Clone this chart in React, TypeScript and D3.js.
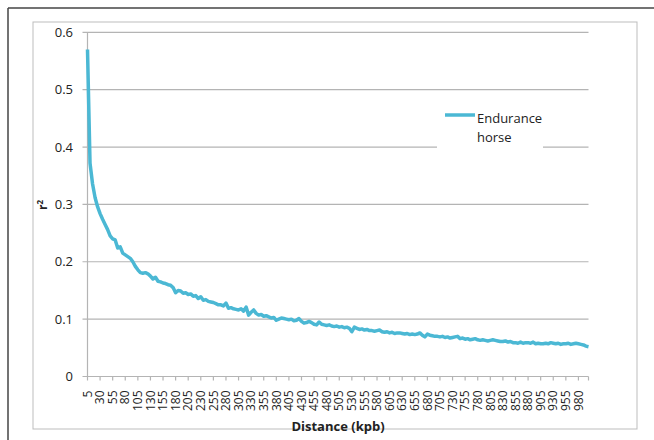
import * as d3 from "d3"

// r2 values, one per 5 kb step from 5 to 1000 kb
const r2Values = [
  0.570, 0.372, 0.336, 0.312, 0.296, 0.284, 0.274, 0.265, 0.256, 0.245,
  0.240, 0.238, 0.224, 0.226, 0.215, 0.212, 0.209, 0.206, 0.200, 0.192,
  0.186, 0.181, 0.180, 0.181, 0.179, 0.175, 0.170, 0.173, 0.166, 0.165,
  0.163, 0.162, 0.160, 0.159, 0.155, 0.146, 0.150, 0.149, 0.145, 0.146,
  0.143, 0.144, 0.140, 0.141, 0.136, 0.139, 0.133, 0.134, 0.131, 0.130,
  0.129, 0.127, 0.125, 0.125, 0.123, 0.128, 0.119, 0.120, 0.118, 0.117,
  0.116, 0.118, 0.114, 0.121, 0.107, 0.112, 0.116, 0.110, 0.107, 0.108,
  0.105, 0.106, 0.104, 0.102, 0.103, 0.098, 0.100, 0.102, 0.101, 0.100,
  0.099, 0.100, 0.097, 0.098, 0.101, 0.096, 0.093, 0.094, 0.096, 0.094,
  0.091, 0.090, 0.095, 0.091, 0.090, 0.089, 0.090, 0.088, 0.087, 0.088,
  0.086, 0.087, 0.085, 0.086, 0.084, 0.078, 0.086, 0.084, 0.082, 0.083,
  0.081, 0.082, 0.080, 0.080, 0.079, 0.080, 0.081, 0.078, 0.077, 0.078,
  0.076, 0.077, 0.075, 0.076, 0.076, 0.075, 0.074, 0.075, 0.073, 0.074,
  0.073, 0.074, 0.076, 0.072, 0.069, 0.074, 0.072, 0.071, 0.070, 0.070,
  0.069, 0.070, 0.068, 0.069, 0.067, 0.068, 0.069, 0.070, 0.066, 0.067,
  0.065, 0.066, 0.064, 0.065, 0.066, 0.064, 0.063, 0.064, 0.063, 0.062,
  0.063, 0.064, 0.063, 0.062, 0.061, 0.061, 0.062, 0.060, 0.061, 0.059,
  0.059, 0.058, 0.060, 0.058, 0.059, 0.059, 0.058, 0.060, 0.057, 0.058,
  0.057, 0.057, 0.058, 0.057, 0.059, 0.058, 0.057, 0.058, 0.056, 0.057,
  0.057, 0.058, 0.056, 0.057, 0.058, 0.057, 0.056, 0.055, 0.053, 0.052,
]

const distances = d3.range(5, 1001, 5)

const xTickLabels = [
  5, 30, 55, 80, 105, 130, 155, 180, 205, 230, 255, 280, 305, 330, 355, 380, 405, 430, 455, 480,
  505, 530, 555, 580, 605, 630, 655, 680, 705, 730, 755, 780, 805, 830, 855, 880, 905, 930, 955, 980,
]

const yTicks = [0, 0.1, 0.2, 0.3, 0.4, 0.5, 0.6]

const seriesName = ["Endurance", "horse"]

const font = "'Open Sans', sans-serif"
const lineColor = "#4bb8d4"
const gridColor = "#b4b4b4"

export default function App() {
  const left = 87.5
  const right = 588.5
  const top = 32.3
  const bottom = 376.5

  const x = d3.scalePoint<number>().domain(distances).range([left, right])
  const y = d3.scaleLinear().domain([0, 0.6]).range([bottom, top])

  const line = d3
    .line<number>()
    .x((_, i) => x(distances[i]) as number)
    .y((d) => y(d))

  return (
    <svg
      width={654}
      height={440}
      style={{ position: "absolute", left: 0, top: 0, background: "#fff" }}
    >
      {/* outer frame */}
      <line x1={8} y1={8} x2={654} y2={8} stroke="#444" strokeWidth={1.5} />
      <line x1={8} y1={8} x2={8} y2={440} stroke="#444" strokeWidth={1.5} />
      {/* chart area border */}
      <rect x={33} y={22} width={604} height={407} fill="#fff" stroke="#bdbdbd" strokeWidth={1} />

      {/* gridlines + y ticks */}
      {yTicks.map((t) => (
        <g key={t}>
          <line x1={left - 5} x2={right} y1={y(t)} y2={y(t)} stroke={gridColor} strokeWidth={1.2} />
          <text
            x={73}
            y={y(t)}
            dy="0.35em"
            textAnchor="end"
            fontFamily={font}
            fontSize={13}
            fill="#222"
          >
            {t === 0 ? "0" : t.toFixed(1)}
          </text>
        </g>
      ))}
      <line x1={left} x2={left} y1={top} y2={bottom} stroke={gridColor} strokeWidth={1.2} />

      {/* x ticks */}
      {xTickLabels.map((d) => (
        <g key={d} transform={`translate(${x(d)},${bottom})`}>
          <line y1={0} y2={4} stroke={gridColor} strokeWidth={1.2} />
          <text
            transform="translate(0,14) rotate(-90)"
            dy="0.35em"
            textAnchor="end"
            fontFamily={font}
            fontSize={12}
            fill="#222"
          >
            {d}
          </text>
        </g>
      ))}
      <line x1={right} x2={right} y1={bottom} y2={bottom + 4} stroke={gridColor} strokeWidth={1.2} />

      {/* legend box */}
      <rect x={437} y={100} width={106} height={52} fill="#fff" />
      <line x1={445} x2={475} y1={115} y2={115} stroke={lineColor} strokeWidth={3.5} />
      <text x={477} y={123} fontFamily={font} fontSize={13} fill="#222">
        {seriesName[0]}
      </text>
      <text x={477} y={141.5} fontFamily={font} fontSize={13} fill="#222">
        {seriesName[1]}
      </text>

      {/* series */}
      <path d={line(r2Values) ?? ""} fill="none" stroke={lineColor} strokeWidth={3.5} strokeLinejoin="round" />

      {/* axis titles */}
      <text
        transform={`translate(47,205) rotate(-90)`}
        textAnchor="middle"
        fontFamily={font}
        fontSize={12}
        fontWeight="bold"
        fill="#222"
      >
        r<tspan dy={-4} fontSize={8}>2</tspan>
      </text>
      <text
        x={(left + right) / 2}
        y={431}
        textAnchor="middle"
        fontFamily={font}
        fontSize={13}
        fontWeight="bold"
        fill="#222"
      >
        Distance (kpb)
      </text>
    </svg>
  )
}
